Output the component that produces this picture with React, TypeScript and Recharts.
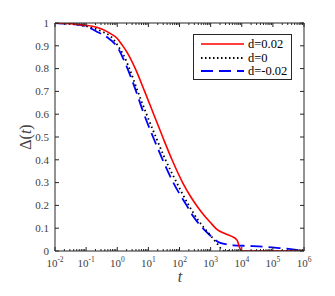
import React from 'react';
import { LineChart, Line, XAxis, YAxis, Legend } from 'recharts';

// x values are log10(t)
const redLogT = [-2, -1.5, -1, -0.8, -0.5, -0.27, 0, 0.15, 0.32, 0.58, 0.88, 1.17, 1.46, 1.76, 2.1, 2.35, 2.6, 2.8, 2.98, 3.2, 3.47, 3.73, 3.82, 3.86, 3.9, 3.93, 3.97, 4.05, 5, 6];
const redDelta = [1, 0.997, 0.99, 0.986, 0.974, 0.958, 0.932, 0.905, 0.87, 0.8, 0.7, 0.6, 0.5, 0.4, 0.3, 0.24, 0.19, 0.155, 0.127, 0.095, 0.076, 0.061, 0.052, 0.045, 0.028, 0.015, 0.004, 0, 0, 0];

const blackLogT = [-2, -1.5, -1, -0.5, -0.2, 0, 0.2, 0.39, 0.66, 0.94, 1.24, 1.55, 1.91, 2.3, 2.6, 2.8, 3.04, 3.25, 3.36, 3.45, 4, 5, 6];
const blackDelta = [1, 0.996, 0.986, 0.963, 0.94, 0.905, 0.86, 0.8, 0.7, 0.6, 0.5, 0.4, 0.3, 0.2, 0.135, 0.1, 0.061, 0.025, 0.006, 0, 0, 0, 0];

const blueLogT = [-2, -1.5, -1, -0.6, -0.3, 0, 0.3, 0.58, 0.86, 1.15, 1.46, 1.8, 2.23, 2.45, 2.66, 2.98, 3.25, 3.5, 3.73, 4.27, 4.8, 5.2, 5.45, 5.88, 6];
const blueDelta = [1, 0.996, 0.985, 0.958, 0.935, 0.895, 0.81, 0.71, 0.6, 0.5, 0.4, 0.3, 0.2, 0.15, 0.113, 0.069, 0.039, 0.03, 0.025, 0.022, 0.018, 0.013, 0.01, 0.003, 0.001];

const seriesLabels = ['d=0.02', 'd=0', 'd=-0.02'];
const seriesColors = ['#ff0000', '#000000', '#0000ff'];
const xMajor = [-2, -1, 0, 1, 2, 3, 4, 5, 6];
const yTicks = [0, 0.1, 0.2, 0.3, 0.4, 0.5, 0.6, 0.7, 0.8, 0.9, 1];
const yTickLabels = ['0', '0.1', '0.2', '0.3', '0.4', '0.5', '0.6', '0.7', '0.8', '0.9', '1'];

const xTicks: number[] = [];
xMajor.forEach((n) => {
  xTicks.push(n);
  if (n < 6) for (let k = 2; k <= 9; k++) xTicks.push(n + Math.log10(k));
});

const rows = (xs: number[], ys: number[]) => xs.map((x, i) => ({ x, y: ys[i] }));
const redData = rows(redLogT, redDelta);
const blackData = rows(blackLogT, blackDelta);
const blueData = rows(blueLogT, blueDelta);

const FONT = '"Liberation Serif", "Times New Roman", Times, serif';
const AX = '#262626';
const LBL = '#404040';

const isMajor = (v: number) => Math.abs(v - Math.round(v)) < 1e-6;

const BottomTick = (p: any) => {
  const { x, y, payload } = p;
  const v = payload.value;
  const maj = isMajor(v);
  return (
    <g>
      <line x1={x} x2={x} y1={y} y2={y - (maj ? 4 : 2)} stroke={AX} strokeWidth={1} />
      {maj && (
        <text x={x} y={y + 16} textAnchor="middle" fill={LBL} style={{ fontFamily: FONT }} fontSize={11}>
          <tspan>10</tspan>
          <tspan dy={-5} fontSize={7.5}>{String(Math.round(v))}</tspan>
        </text>
      )}
    </g>
  );
};

const TopTick = (p: any) => {
  const { x, y, payload } = p;
  const maj = isMajor(payload.value);
  return <line x1={x} x2={x} y1={y} y2={y + (maj ? 4 : 2)} stroke={AX} strokeWidth={1} />;
};

const LeftTick = (p: any) => {
  const { x, y, payload, index } = p;
  return (
    <g>
      <line x1={x} x2={x + 4} y1={y} y2={y} stroke={AX} strokeWidth={1} />
      <text x={x - 6} y={y} dy="0.35em" textAnchor="end" fill={LBL} style={{ fontFamily: FONT }} fontSize={11}>
        {yTickLabels[index] ?? String(payload.value)}
      </text>
    </g>
  );
};

const RightTick = (p: any) => {
  const { x, y } = p;
  return <line x1={x} x2={x - 4} y1={y} y2={y} stroke={AX} strokeWidth={1} />;
};

const YLabel = () => {
  const cx = 17;
  const cy = 129;
  return (
    <text x={cx} y={cy} transform={`rotate(-90 ${cx} ${cy})`} textAnchor="middle" dy="0.35em" fill={LBL} style={{ fontFamily: FONT }} fontSize={16}>
      <tspan>Δ(</tspan>
      <tspan fontStyle="italic">t</tspan>
      <tspan>)</tspan>
    </text>
  );
};

const XLabel = () => (
  <text x={172} y={274} textAnchor="middle" fill={LBL} style={{ fontFamily: FONT }} fontSize={16} fontStyle="italic">
    t
  </text>
);

const LegendBox = () => {
  const dashes = [undefined, '1.5 2.5', '12 6'];
  const widths = [1.6, 1.8, 1.8];
  const ys = [10, 24, 37];
  return (
    <div style={{ width: 99, height: 46, border: `1px solid ${AX}`, background: '#fff', boxSizing: 'border-box' }}>
      <svg width={97} height={44} style={{ display: 'block' }}>
        {seriesLabels.map((s, i) => (
          <g key={s}>
            <line x1={7} x2={50} y1={ys[i] - 1} y2={ys[i] - 1} stroke={seriesColors[i]} strokeWidth={widths[i]} strokeDasharray={dashes[i]} />
            <text x={54} y={ys[i] - 1} dy="0.35em" fill="#000" style={{ fontFamily: FONT }} fontSize={12.5}>
              {s}
            </text>
          </g>
        ))}
      </svg>
    </div>
  );
};

export default function App() {
  return (
    <LineChart width={327} height={288} margin={{ top: 14, right: 30, left: 7, bottom: 15 }}>
      <XAxis
        xAxisId="b"
        dataKey="x"
        type="number"
        domain={[-2, 6]}
        ticks={xTicks}
        interval={0}
        allowDataOverflow
        tickSize={0}
        tickMargin={0}
        tickLine={false}
        tick={<BottomTick />}
        axisLine={{ stroke: AX, strokeWidth: 1 }}
        height={30}
        label={<XLabel />}
      />
      <XAxis
        xAxisId="t"
        orientation="top"
        dataKey="x"
        type="number"
        domain={[-2, 6]}
        ticks={xTicks}
        interval={0}
        allowDataOverflow
        tickSize={0}
        tickMargin={0}
        tickLine={false}
        tick={<TopTick />}
        axisLine={{ stroke: AX, strokeWidth: 1 }}
        height={1}
      />
      <YAxis
        yAxisId="l"
        type="number"
        domain={[0, 1]}
        ticks={yTicks}
        interval={0}
        allowDataOverflow
        tickSize={0}
        tickMargin={0}
        tickLine={false}
        tick={<LeftTick />}
        axisLine={{ stroke: AX, strokeWidth: 1 }}
        width={40}
        label={<YLabel />}
      />
      <YAxis
        yAxisId="r"
        orientation="right"
        type="number"
        domain={[0, 1]}
        ticks={yTicks}
        interval={0}
        allowDataOverflow
        tickSize={0}
        tickMargin={0}
        tickLine={false}
        tick={<RightTick />}
        axisLine={{ stroke: AX, strokeWidth: 1 }}
        width={1}
      />
      <Line xAxisId="t" yAxisId="r" data={redData} dataKey="y" type="monotone" stroke="none" dot={false} activeDot={false} legendType="none" isAnimationActive={false} />
      <Line xAxisId="b" yAxisId="l" data={blueData} dataKey="y" type="monotone" stroke={seriesColors[2]} strokeWidth={1.8} strokeDasharray="12 6" dot={false} isAnimationActive={false} name={seriesLabels[2]} />
      <Line xAxisId="b" yAxisId="l" data={blackData} dataKey="y" type="monotone" stroke={seriesColors[1]} strokeWidth={1.8} strokeDasharray="1.5 3" dot={false} isAnimationActive={false} name={seriesLabels[1]} />
      <Line xAxisId="b" yAxisId="l" data={redData} dataKey="y" type="monotone" stroke={seriesColors[0]} strokeWidth={1.6} dot={false} isAnimationActive={false} name={seriesLabels[0]} />
      <Legend
        layout="vertical"
        align="center"
        verticalAlign="middle"
        wrapperStyle={{ left: 185, top: 26, width: 99, height: 46 }}
        content={() => <LegendBox />}
      />
    </LineChart>
  );
}
